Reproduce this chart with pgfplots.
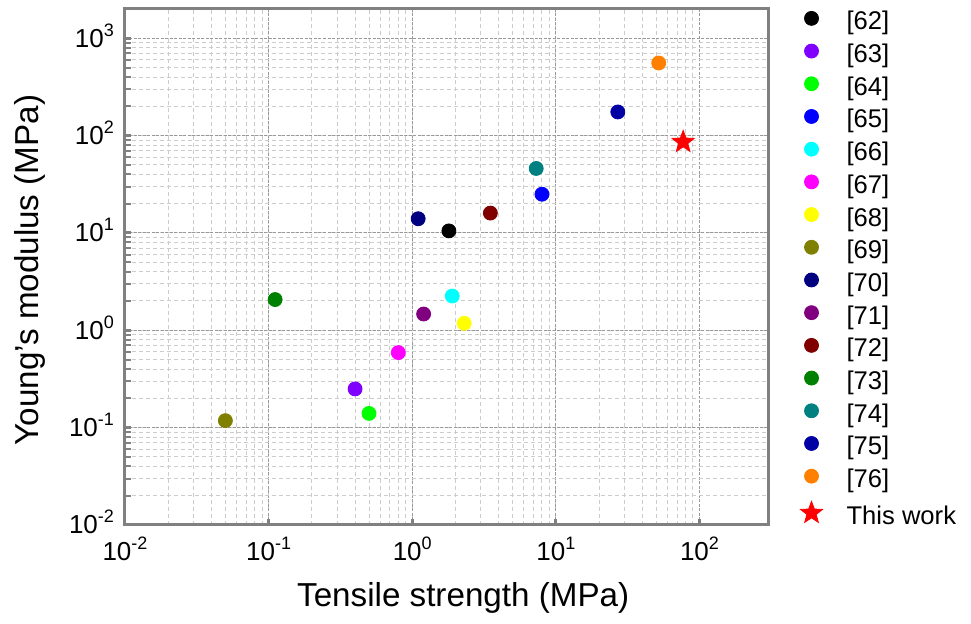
\documentclass[border=0pt]{standalone}
\usepackage{fontspec}
\setmainfont{Liberation Sans}
\usepackage{pgfplots}
\pgfplotsset{compat=1.18}
\definecolor{c62}{RGB}{0,0,0}
\definecolor{c63}{RGB}{128,0,255}
\definecolor{c64}{RGB}{0,255,0}
\definecolor{c65}{RGB}{0,0,255}
\definecolor{c66}{RGB}{0,255,255}
\definecolor{c67}{RGB}{255,0,255}
\definecolor{c68}{RGB}{255,255,0}
\definecolor{c69}{RGB}{128,128,0}
\definecolor{c70}{RGB}{0,0,128}
\definecolor{c71}{RGB}{128,0,128}
\definecolor{c72}{RGB}{128,0,0}
\definecolor{c73}{RGB}{0,128,0}
\definecolor{c74}{RGB}{0,128,128}
\definecolor{c75}{RGB}{0,0,165}
\definecolor{c76}{RGB}{255,128,0}
\newcommand\tl[1]{10\smash{\raisebox{5.5pt}{\fontsize{9}{9}\selectfont #1}}}
\pgfdeclareplotmark{fstar}{%
  \pgfpathmoveto{\pgfpointpolar{90}{\pgfplotmarksize}}%
  \pgfpathlineto{\pgfpointpolar{126}{0.42\pgfplotmarksize}}%
  \pgfpathlineto{\pgfpointpolar{162}{\pgfplotmarksize}}%
  \pgfpathlineto{\pgfpointpolar{198}{0.42\pgfplotmarksize}}%
  \pgfpathlineto{\pgfpointpolar{234}{\pgfplotmarksize}}%
  \pgfpathlineto{\pgfpointpolar{270}{0.42\pgfplotmarksize}}%
  \pgfpathlineto{\pgfpointpolar{306}{\pgfplotmarksize}}%
  \pgfpathlineto{\pgfpointpolar{342}{0.42\pgfplotmarksize}}%
  \pgfpathlineto{\pgfpointpolar{18}{\pgfplotmarksize}}%
  \pgfpathlineto{\pgfpointpolar{54}{0.42\pgfplotmarksize}}%
  \pgfpathclose
  \pgfusepathqfillstroke}
\begin{document}
\begin{tikzpicture}
\begin{axis}[
  scale only axis, width=321.5pt, height=258pt,
  xmode=log, ymode=log,
  xmin=0.01, xmax=300, ymin=0.01, ymax=2000,
  xtick={0.01,0.1,1,10,100},
  xticklabels={\tl{-2},\tl{-1},\tl{0},\tl{1},\tl{2}},
  ytick={0.01,0.1,1,10,100,1000},
  yticklabels={\tl{-2},\tl{-1},\tl{0},\tl{1},\tl{2},\tl{3}},
  grid=both,
  major grid style={gray!80, line width=0.5pt, dash pattern=on 1.5pt off 0.75pt},
  minor grid style={gray!40, line width=0.5pt, dash pattern=on 2pt off 1.5pt},
  axis line style={gray, line width=1.5pt},
  tick align=inside, xtick pos=left, ytick pos=left,
  major tick length=3pt, minor tick length=3pt,
  major tick style={gray, line width=1.5pt},
  minor tick style={gray, line width=1pt},
  minor x tick style={draw=none},
  tick label style={font=\fontsize{13}{15}\selectfont},
  xticklabel style={yshift=-5pt},
  yticklabel style={xshift=-2pt},
  xlabel={Tensile strength (MPa)},
  ylabel={Young's modulus (MPa)},
  label style={font=\fontsize{16.6}{19}\selectfont},
  xlabel style={at={(rel axis cs:0.526,-0.1415)}, anchor=center},
  ylabel style={at={(rel axis cs:-0.148,0.494)}, anchor=center},
  legend style={at={(rel axis cs:1.0499,0.9971)}, anchor=north west, draw=none, fill=none,
    inner xsep=0pt, inner ysep=0pt, row sep=3.85pt, column sep=12pt,
    font=\fontsize{12.8}{15}\selectfont,
    nodes={inner sep=0pt, text height=9.5pt, text depth=3pt, anchor=west}},
  legend cell align=left,
  legend image post style={yshift=2.5pt},
  every axis plot/.append style={only marks, mark=*, mark size=3.5pt},
]
\addplot[c62, mark options={fill=c62}] coordinates {(1.8,10.5)}; \addlegendentry{[62]}
\addplot[c63, mark options={fill=c63}] coordinates {(0.40,0.25)}; \addlegendentry{[63]}
\addplot[c64, mark options={fill=c64}] coordinates {(0.50,0.14)}; \addlegendentry{[64]}
\addplot[c65, mark options={fill=c65}] coordinates {(8.0,25)}; \addlegendentry{[65]}
\addplot[c66, mark options={fill=c66}] coordinates {(1.9,2.25)}; \addlegendentry{[66]}
\addplot[c67, mark options={fill=c67}] coordinates {(0.80,0.59)}; \addlegendentry{[67]}
\addplot[c68, mark options={fill=c68}] coordinates {(2.3,1.18)}; \addlegendentry{[68]}
\addplot[c69, mark options={fill=c69}] coordinates {(0.05,0.118)}; \addlegendentry{[69]}
\addplot[c70, mark options={fill=c70}] coordinates {(1.1,14)}; \addlegendentry{[70]}
\addplot[c71, mark options={fill=c71}] coordinates {(1.2,1.47)}; \addlegendentry{[71]}
\addplot[c72, mark options={fill=c72}] coordinates {(3.5,16)}; \addlegendentry{[72]}
\addplot[c73, mark options={fill=c73}] coordinates {(0.111,2.07)}; \addlegendentry{[73]}
\addplot[c74, mark options={fill=c74}] coordinates {(7.3,46)}; \addlegendentry{[74]}
\addplot[c75, mark options={fill=c75}] coordinates {(27,175)}; \addlegendentry{[75]}
\addplot[c76, mark options={fill=c76}] coordinates {(52,557)}; \addlegendentry{[76]}
\addplot[red, mark=fstar, mark size=5.8pt, mark options={fill=red}] coordinates {(77,86)}; \addlegendentry{This work}
\coordinate (bbsw) at (rel axis cs:-0.1944,-0.1919);
\coordinate (bbne) at (rel axis cs:1.3157,1.0174);
\end{axis}
\pgfresetboundingbox
\path[use as bounding box] (bbsw) rectangle (bbne);
\end{tikzpicture}
\end{document}
